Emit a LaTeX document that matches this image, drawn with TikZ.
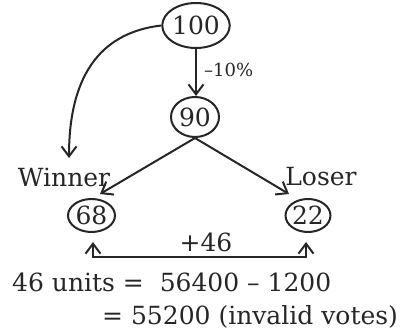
\documentclass[tikz,border=0pt]{standalone}
\usepackage{fontspec}
\setmainfont{DejaVu Serif}
\usetikzlibrary{shapes.geometric,arrows.meta}
\begin{document}
\begin{tikzpicture}[x=1pt,y=-1pt,
  conn/.style={line width=2pt,draw=black!85},
  tip/.style={-{Straight Barb[length=10pt,width=15pt,line width=2pt]}},
  bitip/.style={{Straight Barb[length=10pt,width=15pt,line width=2pt]}-{Straight Barb[length=10pt,width=15pt,line width=2pt]}},
  oval/.style={ellipse,draw=black!85,line width=2pt,inner sep=0pt,font=\fontsize{25}{28}\selectfont,text=black!85},
  txt/.style={inner sep=0pt,font=\fontsize{25}{28}\selectfont,text=black!85},
  small/.style={inner sep=0pt,font=\fontsize{18}{22}\selectfont,text=black!85}]
\useasboundingbox (0,0) rectangle (408,332);
\node[oval,minimum width=64pt,minimum height=45pt] (n100) at (196,25.5) {100};
\node[oval,minimum width=48pt,minimum height=40pt] (n90) at (195,117) {90};
\node[oval,minimum width=47pt,minimum height=33pt] (n68) at (91.5,215.5) {68};
\node[oval,minimum width=44pt,minimum height=33pt] (n22) at (308,215.5) {22};
\node[txt] (win) at (64,177) {Winner};
\node[txt] (los) at (321,177) {Loser};
\node[small,anchor=west] (pct) at (204,70) {–10\%};
\node[txt] (p46) at (206,242) {+46};
\node[txt,anchor=west] (l1) at (12,282) {46 units =\ \ 56400 – 1200};
\node[txt,anchor=west] (l2) at (102,317) {= 55200 (invalid votes)};
\coordinate (wtip) at (69,158);
\coordinate (ltip) at (100,194);
\coordinate (rtip) at (289,194);
\coordinate (b1) at (93,242);
\coordinate (b2) at (306,242);
\draw[conn,tip] (n100.south) -- (n100.south |- n90.north);
\draw[conn,tip] (n100.west) .. controls (105,32) and (69,70) .. (wtip);
\draw[conn,tip] (n90.south) -- (ltip);
\draw[conn,tip] (n90.south) -- (rtip);
\draw[conn,bitip] (b1) -- (b1 |- 0,257) -| (b2);
\end{tikzpicture}
\end{document}
